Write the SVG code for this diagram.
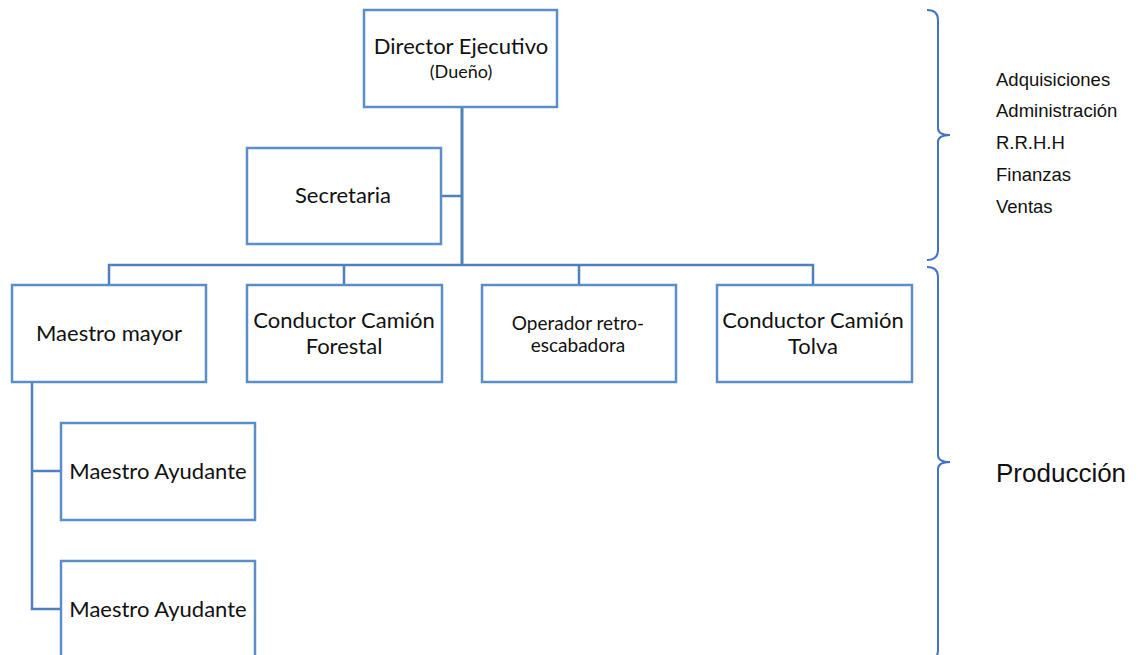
<svg xmlns="http://www.w3.org/2000/svg" width="1139" height="655" viewBox="0 0 1139 655">
<style>
.box{fill:#ffffff;stroke:#5b8ec6;stroke-width:2.5}
.lbl{font-family:Lato,"Noto Sans",sans-serif;font-size:22px;fill:#111;text-anchor:middle}
.sm{font-size:19px}
.con{fill:none;stroke:#4f81bd;stroke-width:2.5}
.brace{fill:none;stroke:#4472c4;stroke-width:2}
.side{font-family:"Liberation Sans",Arial,sans-serif;font-size:18.5px;fill:#111}
</style>
<rect width="1139" height="655" fill="#ffffff"/>
<g id="connectors">
<path class="con" d="M462,107 V265" style="stroke-width:3"/>
<path class="con" d="M441,196 H462"/>
<path class="con" d="M109,285 V265 H813 V285"/>
<path class="con" d="M344,265 V285"/>
<path class="con" d="M579,265 V285"/>
<path class="con" d="M32,382 V609 H61"/>
<path class="con" d="M32,471 H61"/>
</g>
<g id="director">
<rect class="box" x="364" y="10" width="193" height="97"/>
<text class="lbl" x="461" y="54">Director Ejecutivo</text>
<text class="lbl" x="461" y="78" style="font-size:18px">(Dueño)</text>
</g>
<g id="secretaria">
<rect class="box" x="247" y="148" width="194" height="96"/>
<text class="lbl" x="343" y="203">Secretaria</text>
</g>
<g id="maestro-mayor">
<rect class="box" x="12" y="285" width="194" height="97"/>
<text class="lbl" x="109" y="341">Maestro mayor</text>
</g>
<g id="conductor-forestal">
<rect class="box" x="247" y="285" width="195" height="97"/>
<text class="lbl" x="344" y="328">Conductor Camión</text>
<text class="lbl" x="344" y="354">Forestal</text>
</g>
<g id="operador">
<rect class="box" x="482" y="285" width="194" height="97"/>
<text class="lbl sm" x="578" y="330">Operador retro-</text>
<text class="lbl sm" x="578" y="352">escabadora</text>
</g>
<g id="conductor-tolva">
<rect class="box" x="717" y="285" width="195" height="97"/>
<text class="lbl" x="813" y="328">Conductor Camión</text>
<text class="lbl" x="813" y="354">Tolva</text>
</g>
<g id="ayudante-1">
<rect class="box" x="61" y="423" width="194" height="97"/>
<text class="lbl" x="158" y="479">Maestro Ayudante</text>
</g>
<g id="ayudante-2">
<rect class="box" x="61" y="561" width="194" height="100"/>
<text class="lbl" x="158" y="617">Maestro Ayudante</text>
</g>
<g id="brace-admin">
<path class="brace" d="M927,10 Q938,10 938,20 L938,128 Q938,135 950,135 Q938,135 938,142 L938,250 Q938,260 927,260"/>
<text class="side" x="996" y="86">Adquisiciones</text>
<text class="side" x="996" y="117">Administración</text>
<text class="side" x="996" y="149">R.R.H.H</text>
<text class="side" x="996" y="181">Finanzas</text>
<text class="side" x="996" y="213">Ventas</text>
</g>
<g id="brace-produccion">
<path class="brace" d="M927,267 Q938,267 938,277 L938,455 Q938,462 950,462 Q938,462 938,469 L938,650 Q938,660 927,660"/>
<text class="side" x="996" y="482" style="font-size:26px">Producción</text>
</g>
</svg>
